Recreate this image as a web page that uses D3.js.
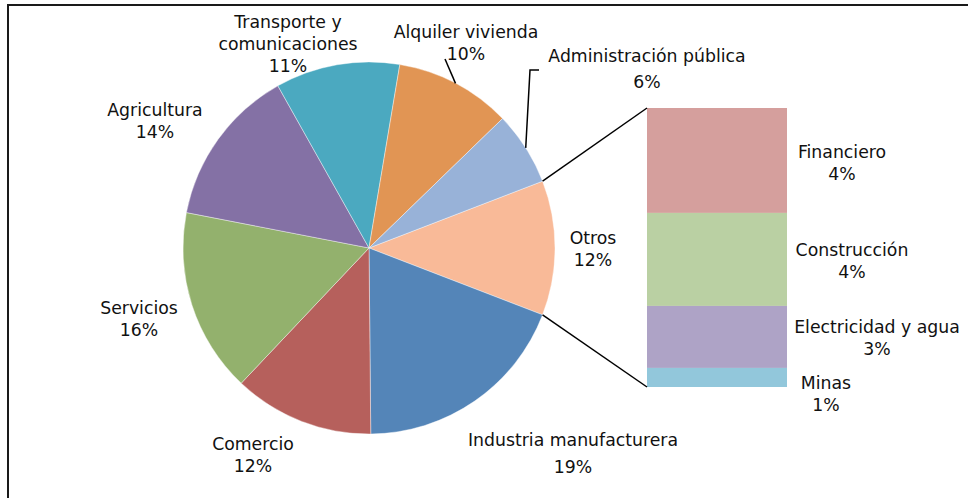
<!DOCTYPE html>
<html>
<head>
<meta charset="utf-8">
<script src="https://cdn.jsdelivr.net/npm/d3@7"></script>
<style>
  body { margin: 0; background: #fff; }
  svg text { font-family: "DejaVu Sans", Verdana, sans-serif; font-size: 17.3px; fill: #111; }
</style>
</head>
<body>
<svg id="chart" width="968" height="498"></svg>
<script>
// main pie, clockwise starting with the "Otros" slice
const sectors = ["Otros", "Industria manufacturera", "Comercio", "Servicios", "Agricultura",
  "Transporte y comunicaciones", "Alquiler vivienda", "Administración pública"];
const shares = [11.7, 19.0, 12.2, 16.0, 13.8, 10.8, 10.1, 6.4];
const sectorColors = ["#F9BA98", "#5485B8", "#B6605C", "#93B16D", "#8471A5", "#4BA9C0", "#E19554", "#98B2D8"];

// breakdown of "Otros" (stacked bar, top to bottom)
const otros = ["Financiero", "Construcción", "Electricidad y agua", "Minas"];
const otrosShares = [4.4, 3.9, 2.6, 0.8];
const otrosColors = ["#D59F9D", "#BAD0A3", "#AEA3C6", "#92C7DB"];

// label anchor: center x, first baseline y, optional gap before the % line
const labelPos = {
  "Otros": [593, 244],
  "Industria manufacturera": [573, 446, 27],
  "Comercio": [253, 450],
  "Servicios": [139, 314],
  "Agricultura": [155, 116],
  "Transporte y comunicaciones": [288, 28],
  "Alquiler vivienda": [466, 38],
  "Administración pública": [647, 62, 26],
  "Financiero": [842, 158],
  "Construcción": [852, 256],
  "Electricidad y agua": [877, 333],
  "Minas": [826, 389]
};
const labelLines = {
  "Transporte y comunicaciones": ["Transporte y", "comunicaciones"]
};

const pct = d3.format(".0f");
const svg = d3.select("#chart");

// chart frame (only top/left visible)
svg.append("rect")
  .attr("x", 8).attr("y", 5)
  .attr("width", 1000).attr("height", 600)
  .attr("fill", "none").attr("stroke", "#1a1a1a").attr("stroke-width", 2);

const cx = 369, cy = 248, r = 186;
const otrosAngle = shares[0] / d3.sum(shares) * 2 * Math.PI;
const start = Math.PI / 2 - otrosAngle / 2;

const pie = d3.pie().sort(null).value(d => d.v).startAngle(start).endAngle(start + 2 * Math.PI);
const arcs = pie(sectors.map((s, i) => ({ name: s, v: shares[i], color: sectorColors[i] })));
const arc = d3.arc().innerRadius(0).outerRadius(r);

const g = svg.append("g").attr("transform", `translate(${cx},${cy})`);
g.selectAll("path")
  .data(arcs)
  .join("path")
  .attr("d", arc)
  .attr("fill", d => d.data.color)
  .attr("stroke", "#fff")
  .attr("stroke-width", 0.4);

// stacked bar for "Otros"
const barX = d3.scaleBand().domain(["Otros"]).range([647, 787]).padding(0);
const barY = d3.scaleLinear().domain([0, d3.sum(otrosShares)]).range([108, 387]);
const cum = d3.cumsum(otrosShares);
const bars = otros.map((o, i) => ({ name: o, v: otrosShares[i], y0: cum[i] - otrosShares[i], y1: cum[i], color: otrosColors[i] }));

svg.selectAll("rect.bar")
  .data(bars)
  .join("rect")
  .attr("class", "bar")
  .attr("x", barX("Otros"))
  .attr("width", barX.bandwidth())
  .attr("y", d => barY(d.y0))
  .attr("height", d => barY(d.y1) - barY(d.y0))
  .attr("fill", d => d.color);

// connector lines from the Otros slice to the bar
const pt = a => [cx + r * Math.sin(a), cy - r * Math.cos(a)];
const oArc = arcs[0];
[[pt(oArc.startAngle), [barX("Otros"), barY(0)]],
 [pt(oArc.endAngle), [barX("Otros"), barY(d3.sum(otrosShares))]]].forEach(l => {
  svg.append("line")
    .attr("x1", l[0][0]).attr("y1", l[0][1])
    .attr("x2", l[1][0]).attr("y2", l[1][1])
    .attr("stroke", "#000").attr("stroke-width", 1.5);
});

// leader lines for the two small top slices
function midPt(d) { return pt((d.startAngle + d.endAngle) / 2); }
const alq = arcs.find(d => d.data.name === "Alquiler vivienda");
const adm = arcs.find(d => d.data.name === "Administración pública");
svg.append("path")
  .attr("d", d3.line()([midPt(alq), [445, 59]]))
  .attr("fill", "none").attr("stroke", "#000").attr("stroke-width", 1.5);
svg.append("path")
  .attr("d", d3.line()([midPt(adm), [530, 70], [539, 70]]))
  .attr("fill", "none").attr("stroke", "#000").attr("stroke-width", 1.5);

// labels
function addLabel(name, value) {
  const p = labelPos[name];
  const lines = (labelLines[name] || [name]).concat([pct(value) + "%"]);
  const gap = 22;
  const t = svg.append("text").attr("text-anchor", "middle");
  lines.forEach((ln, i) => {
    let y = p[1] + i * gap;
    if (i === lines.length - 1 && p[2]) y = p[1] + (lines.length - 2) * gap + p[2];
    t.append("tspan").attr("x", p[0]).attr("y", y).text(ln);
  });
}
// percentages shown as share of the whole
arcs.forEach(d => addLabel(d.data.name, d.data.v));
bars.forEach(d => addLabel(d.name, d.v));
</script>
</body>
</html>
